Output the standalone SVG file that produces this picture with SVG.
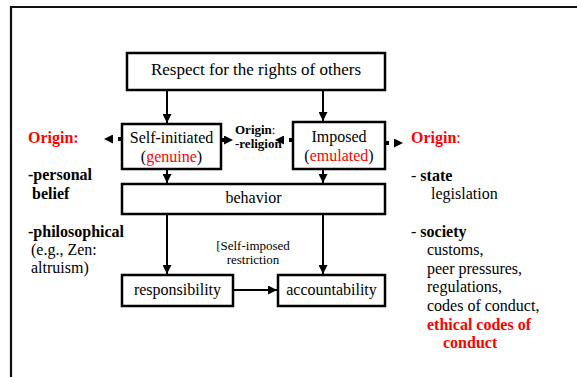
<svg xmlns="http://www.w3.org/2000/svg" width="577" height="377" viewBox="0 0 577 377">
<defs>
<style>
.box{fill:#fff;stroke:#000;stroke-width:2.5}
.t{font-family:"Liberation Serif","Times New Roman",serif;fill:#000}
.b{font-weight:bold}
.red{fill:#ff0000}
.c{stroke:#000;stroke-width:2;fill:none}
.d{stroke:#000;stroke-width:4;fill:none;stroke-dasharray:4 6}
</style>
<marker id="ah" viewBox="0 0 10 10" refX="10" refY="5" markerWidth="10" markerHeight="9" markerUnits="userSpaceOnUse" orient="auto"><path d="M0,0 L10,5 L0,10 z" fill="#000"/></marker>
<marker id="ao" viewBox="0 0 10 10" refX="0" refY="5" markerWidth="10" markerHeight="9" markerUnits="userSpaceOnUse" orient="auto"><path d="M0,0 L10,5 L0,10 z" fill="#000"/></marker>
</defs>
<rect width="577" height="377" fill="#fff"/>
<path d="M11,377 V7 H577" fill="none" stroke="#111" stroke-width="2.2"/>

<g id="connectors">
<path class="c" d="M167,91 V123" marker-end="url(#ah)"/>
<path class="c" d="M323,91 V121" marker-end="url(#ah)"/>
<path class="c" d="M167,169 V183" marker-end="url(#ah)"/>
<path class="c" d="M323,169 V183" marker-end="url(#ah)"/>
<path class="c" d="M167,214 V274" marker-end="url(#ah)"/>
<path class="c" d="M323,214 V274" marker-end="url(#ah)"/>
<path class="c" d="M233,290 H277" marker-end="url(#ah)"/>
<path class="d" d="M122,139 H113" marker-end="url(#ao)"/>
<path class="d" d="M221,140 H224" marker-end="url(#ao)"/>
<path class="d" d="M293,140 H284" marker-end="url(#ao)"/>
<path class="d" d="M385,143 H394" marker-end="url(#ao)"/>
</g>

<g id="respect">
<rect class="box" x="127" y="53" width="258" height="37"/>
<text class="t" x="256" y="75" font-size="17" text-anchor="middle">Respect for the rights of others</text>
</g>
<g id="self-initiated">
<rect class="box" x="122" y="124" width="99" height="45"/>
<text class="t" x="171.5" y="143" font-size="16" text-anchor="middle">Self-initiated</text>
<text class="t" x="171.5" y="162" font-size="16" text-anchor="middle">(<tspan class="red">genuine</tspan>)</text>
</g>
<g id="imposed">
<rect class="box" x="293" y="122" width="92" height="47"/>
<text class="t" x="339" y="142" font-size="16" text-anchor="middle">Imposed</text>
<text class="t" x="339" y="161" font-size="16" text-anchor="middle">(<tspan class="red">emulated</tspan>)</text>
</g>
<g id="behavior">
<rect class="box" x="122" y="184" width="263" height="30"/>
<text class="t" x="253.5" y="203" font-size="16" text-anchor="middle">behavior</text>
</g>
<g id="responsibility">
<rect class="box" x="122" y="275" width="111" height="31"/>
<text class="t" x="177.5" y="295" font-size="16" text-anchor="middle">responsibility</text>
</g>
<g id="accountability">
<rect class="box" x="278" y="275" width="107" height="31"/>
<text class="t" x="331.5" y="295" font-size="16" text-anchor="middle">accountability</text>
</g>

<g id="restriction-label">
<text class="t" x="253" y="250" font-size="13" text-anchor="middle">[Self-imposed</text>
<text class="t" x="253" y="264" font-size="13" text-anchor="middle">restriction</text>
</g>
<g id="religion-label">
<text class="t" x="235" y="134" font-size="13"><tspan class="b">Origin</tspan>:</text>
<text class="t b" x="235" y="148" font-size="13">-religion</text>
</g>
<g id="left-origin">
<text class="t b red" x="28" y="143" font-size="16">Origin:</text>
<text class="t b" x="28" y="180" font-size="16">-personal</text>
<text class="t b" x="32" y="199" font-size="16">belief</text>
<text class="t b" x="28" y="237" font-size="16">-philosophical</text>
<text class="t" x="31" y="255" font-size="16">(e.g., Zen:</text>
<text class="t" x="31" y="273" font-size="16">altruism)</text>
</g>
<g id="right-origin">
<text class="t red" x="411" y="143" font-size="16"><tspan class="b">Origin</tspan>:</text>
<text class="t" x="411" y="181" font-size="16">- <tspan class="b">state</tspan></text>
<text class="t" x="431" y="199" font-size="16">legislation</text>
<text class="t" x="411" y="237" font-size="16">- <tspan class="b">society</tspan></text>
<text class="t" x="427" y="255" font-size="16">customs,</text>
<text class="t" x="427" y="274" font-size="16">peer pressures,</text>
<text class="t" x="427" y="292" font-size="16">regulations,</text>
<text class="t" x="427" y="311" font-size="16">codes of conduct,</text>
<text class="t b red" x="427" y="330" font-size="16">ethical codes of</text>
<text class="t b red" x="443" y="348" font-size="16">conduct</text>
</g>
</svg>
